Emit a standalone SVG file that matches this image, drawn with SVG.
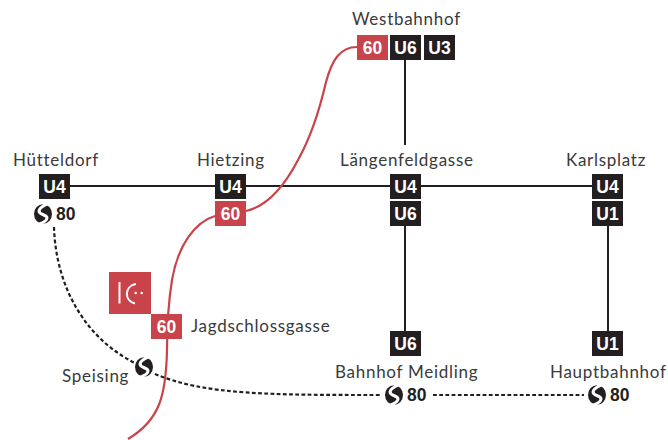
<svg xmlns="http://www.w3.org/2000/svg" width="668" height="440" viewBox="0 0 668 440">
<style>
.name{font-family:"Lato","Noto Sans",sans-serif;font-size:17px;fill:#3a3a3c;letter-spacing:.72px}
.b{font-family:"Liberation Sans",Arial,sans-serif;font-size:17.5px;font-weight:700;text-anchor:middle;fill:#fff}
.n{font-family:"Liberation Sans",Arial,sans-serif;font-size:17.5px;font-weight:700;fill:#231f20}
.k{fill:#231f20}.r{fill:#c8434a}
.line{fill:none;stroke:#231f20;stroke-width:2}
.dot{fill:none;stroke:#231f20;stroke-width:2.2;stroke-dasharray:3.8 2.4}
.red{fill:none;stroke:#c8434a;stroke-width:2.2}
</style>
<defs>
<g id="s"><ellipse rx="9" ry="9.8" fill="#231f20"/><path d="M5-10.500C-1-8-6-4-3-1-1 1 4 1 4 4 4 7 0 9-5 10.500" fill="none" stroke="#fff" stroke-width="3"/></g>
</defs>
<g id="connectors">
<path class="line" d="M70 186H592M405 60V145M405 226V331M608 226V331"/>
<path class="red" d="M357 47C340 47 332 60 326 82 320 108 312 135 298 160 285 185 268 206 246 211M215 216C195 222 178 245 172 280 168 305 167 330 167 350 166 395 160 420 128 439"/>
<path class="dot" d="M54 227C56 290 88 340 135 363M155 374C205 395 270 395 381 395M433 395H584"/>
</g>
<g id="westbahnhof"><text class="name" x="352" y="25">Westbahnhof</text>
<rect class="r" x="357" y="35" width="31" height="25"/><text class="b" x="372.500" y="53.500">60</text>
<rect class="k" x="390" y="35" width="31" height="25"/><text class="b" x="405.500" y="53.500">U6</text>
<rect class="k" x="424" y="35" width="31" height="25"/><text class="b" x="439.500" y="53.500">U3</text></g>
<g id="huetteldorf"><text class="name" x="13" y="166">Hütteldorf</text>
<rect class="k" x="39" y="174" width="31" height="25"/><text class="b" x="54.500" y="192.500">U4</text>
<use href="#s" x="43" y="214"/><text class="n" x="56" y="220">80</text></g>
<g id="hietzing"><text class="name" x="197" y="166">Hietzing</text>
<rect class="k" x="215" y="174" width="31" height="25"/><text class="b" x="230.500" y="192.500">U4</text>
<rect class="r" x="215" y="201" width="31" height="25"/><text class="b" x="230.500" y="219.500">60</text></g>
<g id="laengenfeldgasse"><text class="name" x="340" y="166">Längenfeldgasse</text>
<rect class="k" x="390" y="174" width="31" height="25"/><text class="b" x="405.500" y="192.500">U4</text>
<rect class="k" x="390" y="201" width="31" height="25"/><text class="b" x="405.500" y="219.500">U6</text></g>
<g id="karlsplatz"><text class="name" x="566" y="166">Karlsplatz</text>
<rect class="k" x="592" y="174" width="31" height="25"/><text class="b" x="607.500" y="192.500">U4</text>
<rect class="k" x="592" y="201" width="31" height="25"/><text class="b" x="607.500" y="219.500">U1</text></g>
<g id="jagdschlossgasse">
<rect class="r" x="109" y="272" width="42" height="42"/>
<path d="M119.500 282V303.500M136 284C124 286 124 301 135 303.500" fill="none" stroke="#fff" stroke-width="2"/><circle cx="135.700" cy="293" r="1.300" fill="#fff"/><circle cx="141.700" cy="293" r="1.300" fill="#fff"/>
<rect class="r" x="151" y="314" width="31" height="25"/><text class="b" x="166.500" y="332.500">60</text>
<text class="name" x="191" y="332">Jagdschlossgasse</text></g>
<g id="speising"><text class="name" x="62" y="382">Speising</text><use href="#s" x="144" y="367"/></g>
<g id="meidling"><rect class="k" x="390" y="331" width="31" height="25"/><text class="b" x="405.500" y="349.500">U6</text>
<text class="name" x="335" y="378">Bahnhof Meidling</text>
<use href="#s" x="394" y="395"/><text class="n" x="407" y="401">80</text></g>
<g id="hauptbahnhof"><rect class="k" x="592" y="331" width="31" height="25"/><text class="b" x="607.500" y="349.500">U1</text>
<text class="name" x="550" y="378">Hauptbahnhof</text>
<use href="#s" x="597" y="395"/><text class="n" x="610" y="401">80</text></g>
</svg>
